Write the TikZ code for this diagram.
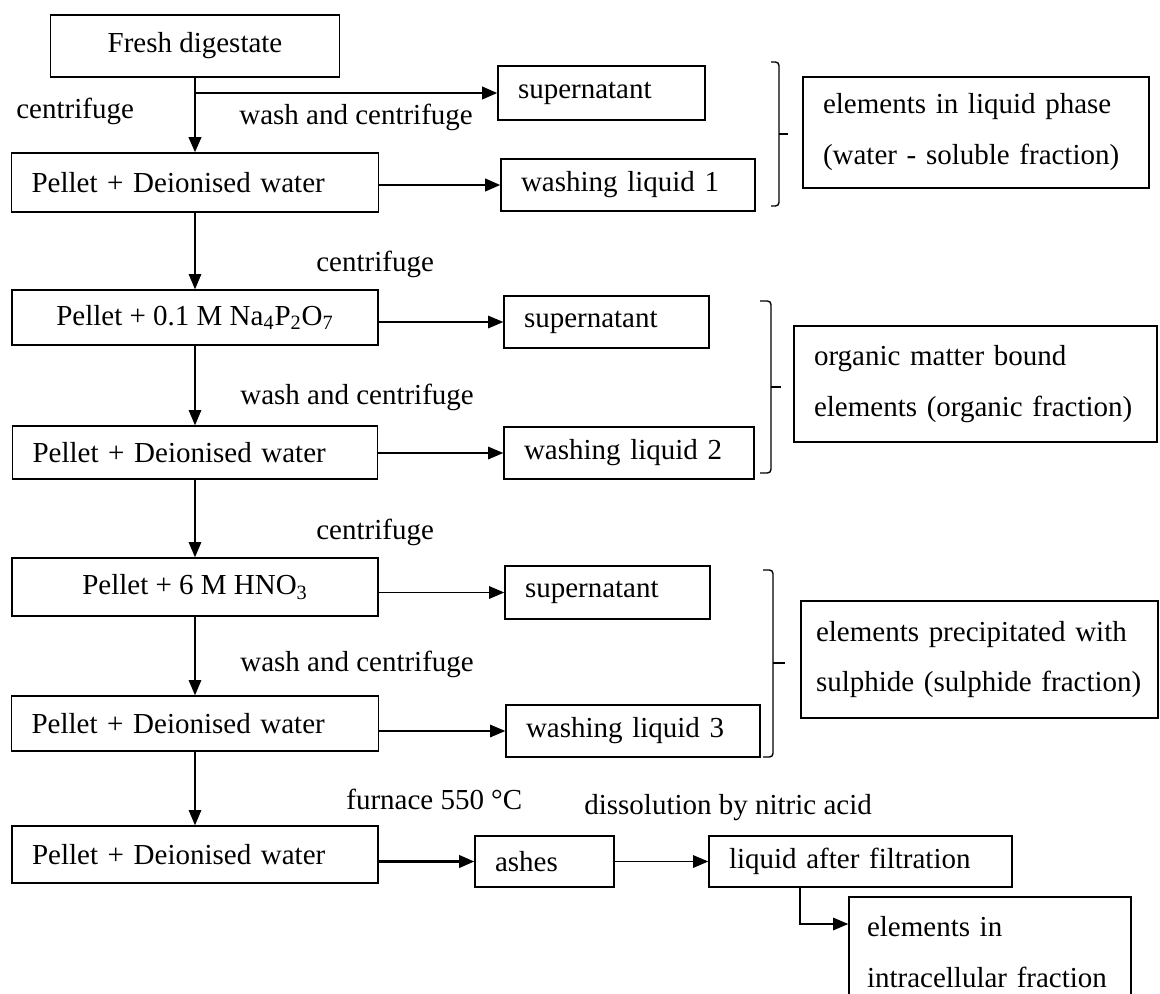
\documentclass[tikz,border=0pt]{standalone}
\usepackage{fontspec}
\setmainfont{Liberation Serif}
\usetikzlibrary{arrows.meta}

\begin{document}
\begin{tikzpicture}[
  x=0.02cm, y=-0.02cm,
  font=\fontsize{16.5}{29}\selectfont,
  stage/.style={
    draw,
    line width=0.9pt,
    inner xsep=0.4cm,
    inner ysep=0pt,
    align=left
  },
  centred/.style={draw, line width=0.9pt, inner sep=0pt, align=center},
  note/.style={inner sep=0pt, anchor=base west},
  flow/.style={-{Triangle[length=0.3cm,width=0.25cm]}, line width=0.6pt},
  boldflow/.style={flow, line width=1.2pt},
  bracket/.style={line width=0.8pt, rounded corners=2pt}
]
  \useasboundingbox (0,0) rectangle (1160,994);
  \clip (0,0) rectangle (1160,994);

  % main column
  \node[centred, minimum width=5.78cm, minimum height=1.24cm] (fresh) at (195,46)
    {Fresh digestate};
  \node[stage, text width=6.54cm, minimum height=1.18cm] (pel1) at (195,182.5)
    {Pellet + Deionised water};
  \node[centred, minimum width=7.32cm, minimum height=1.1cm] (pel2) at (195,317.5)
    {Pellet + 0.1 M Na\textsubscript{4}P\textsubscript{2}O\textsubscript{7}};
  \node[stage, text width=6.5cm, minimum height=1.06cm] (pel3) at (195,452.5)
    {Pellet + Deionised water};
  \node[centred, minimum width=7.32cm, minimum height=1.16cm] (pel4) at (195,587)
    {Pellet + 6 M HNO\textsubscript{3}};
  \node[stage, text width=6.54cm, minimum height=1.1cm] (pel5) at (195,723.5)
    {Pellet + Deionised water};
  \node[stage, text width=6.52cm, minimum height=1.14cm] (pel6) at (195,854.5)
    {Pellet + Deionised water};

  % liquids taken off
  \node[stage, text width=3.34cm, minimum height=1.08cm] (sup1) at (601.5,93) {supernatant};
  \node[stage, text width=4.28cm, minimum height=1.04cm] (wash1) at (628,185) {washing liquid 1};
  \node[stage, text width=3.3cm, minimum height=1.04cm] (sup2) at (606.5,322) {supernatant};
  \node[stage, text width=4.2cm, minimum height=1.04cm] (wash2) at (629,453) {washing liquid 2};
  \node[stage, text width=3.3cm, minimum height=1.06cm] (sup3) at (607.5,592.5) {supernatant};
  \node[stage, text width=4.28cm, minimum height=1.04cm] (wash3) at (633,731) {washing liquid 3};

  % fractions
  \node[stage, text width=6.12cm, minimum height=2.22cm] (liquid) at (976,132.5)
    {elements in liquid phase\\(water - soluble fraction)};
  \node[stage, text width=6.46cm, minimum height=2.32cm] (organic) at (975.5,384)
    {organic matter bound\\elements (organic fraction)};
  \node[stage, inner xsep=0.3cm, text width=6.54cm, minimum height=2.34cm] (sulphide) at (979.5,659.5)
    {elements precipitated with\\sulphide (sulphide fraction)};

  % last step
  \node[stage, text width=1.98cm, minimum height=1.02cm] (ashes) at (544.5,861.5) {ashes};
  \node[stage, text width=5.26cm, minimum height=1.02cm] (filtrate) at (860.5,861.5)
    {liquid after filtration};
  \node[stage, inner xsep=0.36cm, text width=4.92cm, minimum height=2.2cm] (intra) at (990,952)
    {elements in\\intracellular fraction};

  % step labels
  \node[note] (spin1) at (16,118) {centrifuge};
  \node[note] (rinse1) at (239,124) {wash and centrifuge};
  \node[note] (spin2) at (316,271) {centrifuge};
  \node[note] (rinse2) at (240,404) {wash and centrifuge};
  \node[note] (spin3) at (316,539) {centrifuge};
  \node[note] (rinse3) at (240,671) {wash and centrifuge};
  \node[note] (ashing) at (346,809) {furnace 550 °C};
  \node[note] (digest) at (584,814) {dissolution by nitric acid};

  \draw[boldflow] (fresh) -- (pel1);
  \draw[boldflow] (fresh.south |- sup1.west) -- (sup1.west);
  \draw[boldflow] (pel1.east |- wash1.west) -- (wash1.west);
  \draw[flow] (pel1) -- (pel2);
  \draw[flow] (pel2.east |- sup2.west) -- (sup2.west);
  \draw[flow] (pel2) -- (pel3);
  \draw[flow] (pel3.east |- wash2.west) -- (wash2.west);
  \draw[flow] (pel3) -- (pel4);
  \draw[flow] (pel4.east |- sup3.west) -- (sup3.west);
  \draw[flow] (pel4) -- (pel5);
  \draw[flow] (pel5.east |- wash3.west) -- (wash3.west);
  \draw[flow] (pel5) -- (pel6);
  \draw[boldflow] (pel6.east |- ashes.west) -- (ashes.west);
  \draw[flow] (ashes) -- (filtrate);
  \draw[flow] ([xshift=-1.21cm]filtrate.south) |- ([yshift=0.56cm]intra.west);

  % brackets
  \draw[bracket] (771,62) -- (779,62) -- (779,206) -- (771,206);
  \draw[bracket] (779,134) -- (788,134);
  \draw[bracket] (760,301) -- (771,301) -- (771,473) -- (760,473);
  \draw[bracket] (771,387) -- (781,387);
  \draw[bracket] (763,570) -- (773,570) -- (773,757) -- (763,757);
  \draw[bracket] (773,663) -- (785,663);
\end{tikzpicture}
\end{document}
